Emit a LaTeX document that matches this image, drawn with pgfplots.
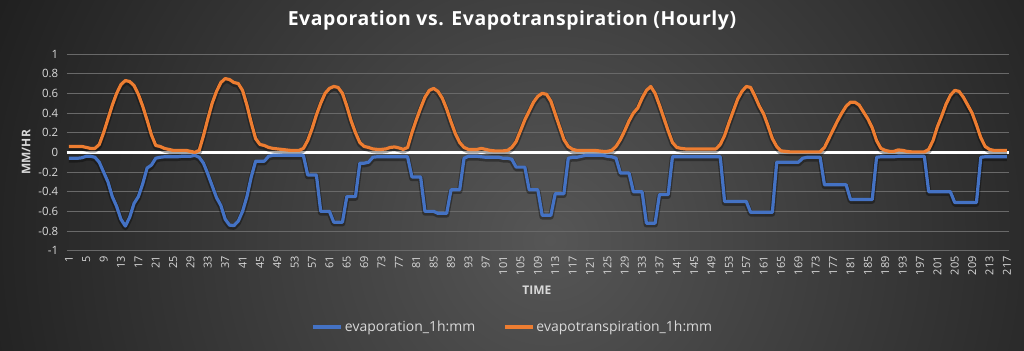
\documentclass[border=0pt]{standalone}
\usepackage{pgfplots}
\pgfplotsset{compat=1.18}
\usepackage{pgfplotstable}
\usepackage{fontspec}
\setmainfont{Open Sans}
\newfontfamily\titlefont[LetterSpace=3]{Open Sans}
\definecolor{bgin}{RGB}{86,86,86}
\definecolor{bgout}{RGB}{30,30,30}
\definecolor{evap}{RGB}{68,114,196}
\definecolor{evapt}{RGB}{237,125,49}
\definecolor{gridc}{RGB}{105,105,105}
\definecolor{txt}{RGB}{217,217,217}

\pgfplotstableread{
x ev et
1 -0.06 0.06
2 -0.06 0.06
3 -0.06 0.06
4 -0.055 0.06
5 -0.04 0.05
6 -0.04 0.04
7 -0.05 0.04
8 -0.10 0.08
9 -0.20 0.20
10 -0.30 0.34
11 -0.45 0.48
12 -0.55 0.60
13 -0.68 0.69
14 -0.75 0.73
15 -0.66 0.72
16 -0.52 0.68
17 -0.45 0.59
18 -0.32 0.47
19 -0.16 0.33
20 -0.13 0.18
21 -0.06 0.07
22 -0.05 0.06
23 -0.045 0.04
24 -0.045 0.03
25 -0.045 0.02
26 -0.045 0.02
27 -0.04 0.02
28 -0.04 0.02
29 -0.04 0.01
30 -0.03 0.00
31 -0.05 0.02
32 -0.11 0.17
33 -0.22 0.34
34 -0.34 0.50
35 -0.46 0.62
36 -0.54 0.71
37 -0.68 0.75
38 -0.74 0.74
39 -0.745 0.71
40 -0.70 0.70
41 -0.60 0.63
42 -0.45 0.48
43 -0.25 0.30
44 -0.09 0.14
45 -0.09 0.08
46 -0.09 0.07
47 -0.04 0.05
48 -0.03 0.04
49 -0.03 0.035
50 -0.03 0.03
51 -0.03 0.025
52 -0.03 0.02
53 -0.03 0.02
54 -0.03 0.02
55 -0.03 0.04
56 -0.23 0.12
57 -0.23 0.24
58 -0.23 0.38
59 -0.60 0.50
60 -0.60 0.60
61 -0.60 0.65
62 -0.71 0.67
63 -0.71 0.66
64 -0.71 0.60
65 -0.45 0.47
66 -0.45 0.32
67 -0.45 0.20
68 -0.11 0.10
69 -0.11 0.06
70 -0.10 0.05
71 -0.05 0.035
72 -0.045 0.03
73 -0.045 0.03
74 -0.045 0.035
75 -0.045 0.05
76 -0.045 0.055
77 -0.045 0.045
78 -0.045 0.03
79 -0.045 0.05
80 -0.25 0.20
81 -0.25 0.33
82 -0.25 0.45
83 -0.60 0.56
84 -0.60 0.63
85 -0.60 0.65
86 -0.62 0.62
87 -0.62 0.55
88 -0.62 0.44
89 -0.38 0.31
90 -0.38 0.19
91 -0.38 0.10
92 -0.06 0.05
93 -0.04 0.03
94 -0.04 0.03
95 -0.04 0.03
96 -0.045 0.04
97 -0.05 0.03
98 -0.05 0.02
99 -0.05 0.015
100 -0.05 0.015
101 -0.06 0.015
102 -0.06 0.02
103 -0.07 0.05
104 -0.15 0.11
105 -0.15 0.22
106 -0.15 0.33
107 -0.38 0.42
108 -0.38 0.51
109 -0.38 0.57
110 -0.64 0.60
111 -0.64 0.59
112 -0.64 0.52
113 -0.42 0.39
114 -0.42 0.26
115 -0.42 0.13
116 -0.06 0.06
117 -0.05 0.03
118 -0.05 0.02
119 -0.04 0.02
120 -0.03 0.02
121 -0.03 0.02
122 -0.03 0.02
123 -0.03 0.015
124 -0.03 0.01
125 -0.04 0.01
126 -0.045 0.02
127 -0.06 0.06
128 -0.21 0.13
129 -0.21 0.22
130 -0.21 0.32
131 -0.40 0.40
132 -0.40 0.45
133 -0.40 0.55
134 -0.72 0.63
135 -0.72 0.67
136 -0.72 0.60
137 -0.43 0.48
138 -0.43 0.35
139 -0.43 0.22
140 -0.045 0.10
141 -0.045 0.05
142 -0.045 0.04
143 -0.045 0.035
144 -0.045 0.035
145 -0.045 0.035
146 -0.045 0.035
147 -0.045 0.035
148 -0.045 0.035
149 -0.045 0.035
150 -0.045 0.035
151 -0.045 0.08
152 -0.50 0.17
153 -0.50 0.30
154 -0.50 0.42
155 -0.50 0.54
156 -0.50 0.62
157 -0.50 0.67
158 -0.61 0.66
159 -0.61 0.57
160 -0.61 0.47
161 -0.61 0.39
162 -0.61 0.27
163 -0.61 0.14
164 -0.10 0.06
165 -0.10 0.015
166 -0.10 0.01
167 -0.10 0.005
168 -0.10 0.005
169 -0.10 0.005
170 -0.06 0.005
171 -0.05 0.005
172 -0.05 0.005
173 -0.05 0.005
174 -0.05 0.005
175 -0.33 0.05
176 -0.33 0.14
177 -0.33 0.23
178 -0.33 0.32
179 -0.33 0.40
180 -0.33 0.47
181 -0.48 0.51
182 -0.48 0.51
183 -0.48 0.48
184 -0.48 0.41
185 -0.48 0.34
186 -0.48 0.25
187 -0.05 0.12
188 -0.045 0.04
189 -0.045 0.02
190 -0.045 0.01
191 -0.045 0.01
192 -0.04 0.025
193 -0.04 0.02
194 -0.04 0.01
195 -0.04 0.005
196 -0.04 0.005
197 -0.04 0.005
198 -0.04 0.005
199 -0.40 0.03
200 -0.40 0.12
201 -0.40 0.26
202 -0.40 0.37
203 -0.40 0.49
204 -0.40 0.58
205 -0.51 0.63
206 -0.51 0.62
207 -0.51 0.56
208 -0.51 0.48
209 -0.51 0.40
210 -0.51 0.28
211 -0.05 0.15
212 -0.045 0.06
213 -0.045 0.03
214 -0.045 0.02
215 -0.045 0.02
216 -0.045 0.02
217 -0.045 0.02
}\data

\begin{document}
\begin{tikzpicture}[x=1bp,y=1bp]
\useasboundingbox (0,0) rectangle (1024,350);
\begin{scope}
\clip (0,0) rectangle (1024,350);
\fill[bgout] (0,0) rectangle (1024,350);
\shade[inner color=bgin, outer color=bgout] (550,110) circle (620);
\end{scope}
\node[text=white, font=\titlefont\bfseries\fontsize{19.5}{23}\selectfont] at (512,330) {Evaporation vs. Evapotranspiration (Hourly)};
\begin{axis}[
  at={(66.7bp,99.3bp)}, anchor=south west,
  scale only axis, width=942.3bp, height=196.7bp,
  xmin=0.5, xmax=217.5, ymin=-1, ymax=1,
  xtick={1,5,...,217},
  ytick={-1,-0.8,-0.6,-0.4,-0.2,0,0.2,0.4,0.6,0.8,1},
  yticklabels={-1,-0.8,-0.6,-0.4,-0.2,0,0.2,0.4,0.6,0.8,1},
  /pgf/number format/assume math mode=true,
  x tick label style={rotate=90, anchor=east, font=\fontsize{11}{13}\selectfont, text=txt},
  y tick label style={font=\fontsize{11.5}{13}\selectfont, text=txt},
  xticklabel shift=2bp, yticklabel shift=5bp,
  axis line style={draw=none},
  major tick style={draw=none},
  ymajorgrids, grid style={gridc, line width=0.8bp},
  extra y ticks={0}, extra y tick labels={},
  extra y tick style={grid style={white, line width=3bp}},
  ylabel={\textbf{MM/HR}}, xlabel={\textbf{TIME}},
  label style={font=\fontsize{12}{14}\selectfont, text=txt},
  ylabel style={at={(axis description cs:-0.0432,0.5)}, anchor=center},
  xlabel style={at={(axis description cs:0.499,-0.20)}, anchor=center},
  legend style={at={(axis description cs:0.4736,-0.388)}, anchor=center,
    draw=none, fill=none, legend columns=2, text=txt,
    font=\fontsize{14}{16}\selectfont,
    /tikz/every even column/.append style={column sep=26bp}},
  legend cell align=left,
  legend image code/.code={\draw[#1, line width=3.2bp] (0bp,0bp) -- (28bp,0bp);},
]
\addplot[black, opacity=0.35, line width=5.5bp, line join=round, yshift=-1.5bp, forget plot] table[x=x, y=ev] {\data};
\addplot[black, opacity=0.35, line width=5.5bp, line join=round, yshift=-1.5bp, forget plot] table[x=x, y=et] {\data};
\addplot[evap, line width=3.2bp, line join=round] table[x=x, y=ev] {\data};
\addlegendentry{evaporation\_1h:mm}
\addplot[evapt, line width=3.2bp, line join=round] table[x=x, y=et] {\data};
\addlegendentry{evapotranspiration\_1h:mm}
\end{axis}
\end{tikzpicture}
\end{document}
